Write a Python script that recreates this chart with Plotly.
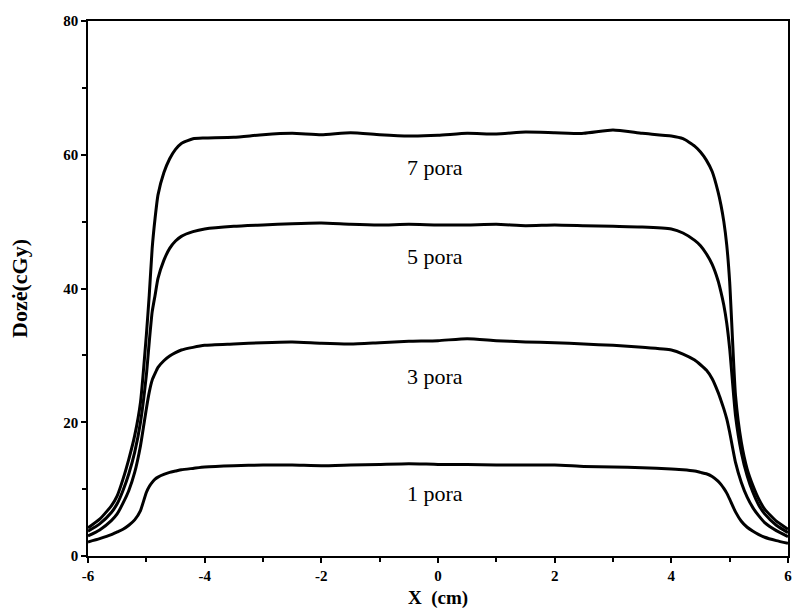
import plotly.graph_objects as go

x_cm = [-6, -5.8, -5.6, -5.5, -5.4, -5.3, -5.2, -5.1, -5.0, -4.95, -4.9, -4.85, -4.8, -4.7, -4.6, -4.5, -4.4, -4.2, -4.0,
        -3.5, -3, -2.5, -2, -1.5, -1, -0.5, 0, 0.5, 1, 1.5, 2, 2.5, 3, 3.5,
        4.0, 4.2, 4.4, 4.5, 4.6, 4.7, 4.8, 4.85, 4.9, 4.95, 5.0, 5.1, 5.2, 5.3, 5.4, 5.5, 5.6, 5.8, 6]

dose_7 = [4.2, 5.5, 7.5, 9.0, 11.5, 14.5, 18, 23, 33, 39, 46, 50.5, 54, 57.3, 59.4, 60.8, 61.7, 62.4, 62.5,
          62.6, 63.0, 63.2, 63.0, 63.3, 63.0, 62.8, 62.9, 63.2, 63.1, 63.4, 63.3, 63.2, 63.7, 63.2,
          62.8, 62.4, 61.3, 60.4, 59.2, 57.5, 54.5, 52.5, 50, 46.5, 41, 24, 17, 13, 10.5, 8.5, 7.0, 5.2, 4.0]

dose_5 = [3.7, 4.8, 6.5, 7.8, 9.8, 12.3, 15.5, 20, 27, 32, 36.5, 39, 41.5, 44.2, 46.0, 47.1, 47.8, 48.5, 48.9,
          49.3, 49.5, 49.7, 49.8, 49.6, 49.5, 49.6, 49.5, 49.5, 49.6, 49.4, 49.5, 49.4, 49.3, 49.2,
          48.9, 48.3, 47.2, 46.4, 45.2, 43.6, 41.2, 39.5, 37.5, 34.8, 31, 21, 15.5, 12, 9.5, 7.6, 6.3, 4.6, 3.5]

dose_3 = [3.0, 3.9, 5.3, 6.3, 7.9, 9.8, 12.5, 16.5, 22, 24.5, 26.3, 27.3, 28.2, 29.2, 29.9, 30.4, 30.8, 31.2, 31.5,
          31.7, 31.9, 32.0, 31.8, 31.7, 31.9, 32.1, 32.2, 32.5, 32.2, 32.0, 31.9, 31.7, 31.5, 31.2,
          30.8, 30.2, 29.3, 28.6, 27.8, 26.5, 24.5, 23.3, 22, 20.5, 18.5, 14, 11, 8.8, 7.2, 6.0, 5.0, 3.8, 2.9]

dose_1 = [2.1, 2.6, 3.2, 3.6, 4.0, 4.6, 5.4, 6.8, 9.5, 10.4, 11.0, 11.5, 11.8, 12.2, 12.5, 12.7, 12.9, 13.1, 13.3,
          13.5, 13.6, 13.6, 13.5, 13.6, 13.7, 13.8, 13.7, 13.7, 13.6, 13.6, 13.6, 13.4, 13.3, 13.2,
          13.0, 12.9, 12.7, 12.5, 12.3, 11.9, 11.2, 10.7, 10.1, 9.4, 8.5, 6.6, 5.2, 4.3, 3.7, 3.2, 2.8, 2.3, 1.9]

labels = ["7 pora", "5 pora", "3 pora", "1 pora"]
label_y = [58.1, 44.8, 26.9, 9.3]

fig = go.Figure()
for ys in [dose_7, dose_5, dose_3, dose_1]:
    fig.add_trace(go.Scatter(x=x_cm, y=ys, mode="lines",
                             line=dict(color="black", width=3, shape="spline", smoothing=0.5),
                             showlegend=False, hoverinfo="skip"))

for lab, yy in zip(labels, label_y):
    fig.add_annotation(x=-0.05, y=yy, text=lab, showarrow=False,
                       font=dict(family="Liberation Serif", size=22, color="black"))

tickfont = dict(family="Liberation Serif", size=15, color="black", weight="bold")
fig.update_xaxes(range=[-6, 6], tickvals=[-6, -4, -2, 0, 2, 4, 6], ticktext=["-6", "-4", "-2", "0", "2", "4", "6"],
                 ticks="outside", ticklen=5, tickwidth=1.5, tickcolor="black", ticklabeloverflow="allow",
                 minor=dict(dtick=1, ticks="outside", ticklen=4, tickwidth=1.5, tickcolor="black", showgrid=False),
                 showline=True, linecolor="black", linewidth=1.5, mirror=True, showgrid=False, zeroline=False,
                 tickfont=tickfont,
                 title=dict(text="X  (cm)", standoff=8,
                            font=dict(family="Liberation Serif", size=19, color="black", weight="bold")))
fig.update_yaxes(range=[0, 80], tickvals=[0, 20, 40, 60, 80],
                 ticks="outside", ticklen=5, tickwidth=1.5, tickcolor="black",
                 minor=dict(dtick=10, ticks="outside", ticklen=4, tickwidth=1.5, tickcolor="black", showgrid=False),
                 showline=True, linecolor="black", linewidth=1.5, mirror=True, showgrid=False, zeroline=False,
                 tickfont=tickfont,
                 title=dict(text="Dozė(cGy)", standoff=30,
                            font=dict(family="Liberation Serif", size=22, color="black", weight="bold")))

fig.update_layout(width=794, height=614, margin=dict(l=88, r=2, t=21, b=58),
                  paper_bgcolor="white", plot_bgcolor="white")
fig.write_html("out.html")
